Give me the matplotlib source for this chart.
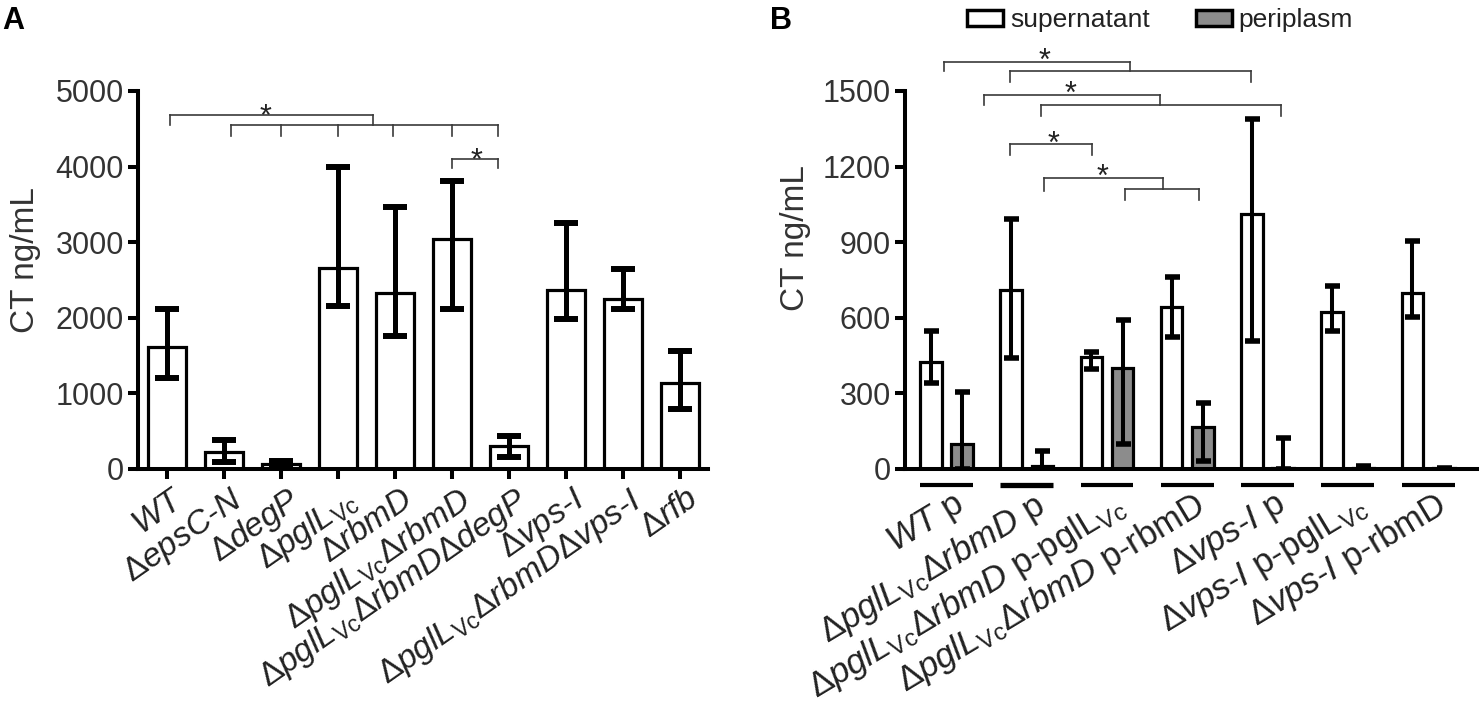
import matplotlib
matplotlib.use("Agg")
import matplotlib.pyplot as plt
import matplotlib.transforms as mtransforms
from matplotlib.patches import Patch
import numpy as np

plt.rcParams['font.family'] = ['Liberation Sans', 'DejaVu Sans']
plt.rcParams['mathtext.fontset'] = 'custom'
plt.rcParams['mathtext.rm'] = 'Liberation Sans'
plt.rcParams['mathtext.it'] = 'Liberation Sans:italic'
plt.rcParams['mathtext.bf'] = 'Liberation Sans:bold'

# ---------------- Panel A data ----------------
labels_a = [
    r'$\mathit{WT}$',
    r'$\mathit{ΔepsC‐N}$',
    r'$\mathit{ΔdegP}$',
    r'$\mathit{ΔpglL}_{\mathregular{Vc}}$',
    r'$\mathit{ΔrbmD}$',
    r'$\mathit{ΔpglL}_{\mathregular{Vc}}\mathit{ΔrbmD}$',
    r'$\mathit{ΔpglL}_{\mathregular{Vc}}\mathit{ΔrbmDΔdegP}$',
    r'$\mathit{Δvps‐I}$',
    r'$\mathit{ΔpglL}_{\mathregular{Vc}}\mathit{ΔrbmDΔvps‐I}$',
    r'$\mathit{Δrfb}$',
]
values_a = [1615, 222, 66, 2660, 2325, 3045, 300, 2370, 2245, 1135]
err_low_a = [1210, 90, 35, 2150, 1760, 2120, 155, 1980, 2113, 790]
err_high_a = [2115, 385, 100, 3990, 3470, 3810, 440, 3260, 2650, 1565]

# ---------------- Panel B data ----------------
labels_b = [
    r'$\mathit{WT}\ \mathregular{p}$',
    r'$\mathit{ΔpglL}_{\mathregular{Vc}}\mathit{ΔrbmD}\ \mathregular{p}$',
    r'$\mathit{ΔpglL}_{\mathregular{Vc}}\mathit{ΔrbmD}\ \mathregular{p‐pglL}_{\mathregular{Vc}}$',
    r'$\mathit{ΔpglL}_{\mathregular{Vc}}\mathit{ΔrbmD}\ \mathregular{p‐rbmD}$',
    r'$\mathit{Δvps‐I}\ \mathregular{p}$',
    r'$\mathit{Δvps‐I}\ \mathregular{p‐pglL}_{\mathregular{Vc}}$',
    r'$\mathit{Δvps‐I}\ \mathregular{p‐rbmD}$',
]
super_vals = [426, 710, 446, 642, 1011, 622, 700]
super_low = [343, 440, 395, 523, 506, 549, 605]
super_high = [548, 992, 466, 763, 1390, 728, 906]
peri_vals = [100, 10, 400, 166, 5, 5, 3]
peri_low = [0, 0, 99, 30, 0, 0, 0]
peri_high = [304, 70, 592, 261, 123, 10, 4]
series_names = ['supernatant', 'periplasm']

# significance brackets (x in data units, y in data units)
# each: (x0, x1, y, left_tick_bottom, right_tick_bottom)
brackets_a = [
    (0.06, 3.62, 4687, 4546, None),
    (1.12, 5.80, 4555, 4400, 4400),
    (5.00, 5.81, 4098, 3988, 3988),
]
inner_ticks_a = [(2.0, 4555, 4400), (3.0, 4555, 4400), (3.97, 4555, 4400), (5.0, 4555, 4400)]
stars_a = [(1.73, 4770), (5.42, 4185)]

brackets_b = [
    (-0.03, 2.29, 1617, 1579, None),
    (0.79, 3.79, 1578, 1536, 1536),
    (0.47, 2.66, 1483, 1443, None),
    (1.18, 4.17, 1443, 1400, 1400),
    (0.79, 1.81, 1291, 1245, 1245),
    (1.21, 2.70, 1154, 1104, None),
    (2.23, 3.15, 1110, 1067, 1067),
]
stars_b = [(1.22, 1654), (1.54, 1522), (1.33, 1324), (1.94, 1192)]

W, H = 1483, 715
fig = plt.figure(figsize=(W / 100, H / 100), dpi=100)

spine_lw = 2.9
axA = fig.add_axes([138 / W, 1 - 469 / H, (708 - 138) / W, (469 - 91) / H])
axB = fig.add_axes([905 / W, 1 - 469 / H, (1477 - 905) / W, (469 - 91) / H])

for ax in (axA, axB):
    for s in ('top', 'right'):
        ax.spines[s].set_visible(False)
    for s in ('left', 'bottom'):
        ax.spines[s].set_linewidth(spine_lw)
    ax.tick_params(axis='y', width=spine_lw, length=7.2, labelsize=22, pad=3,
                   colors='black', labelcolor='#333333')

shift = mtransforms.ScaledTranslation(6 / 100, 0, fig.dpi_scale_trans)

# ---------- Panel A ----------
xa = np.arange(len(values_a))
axA.bar(xa, values_a, width=0.67, color='white', edgecolor='black', linewidth=2.3, zorder=2)
va = np.array(values_a)
axA.errorbar(xa, va, yerr=[va - np.array(err_low_a), np.array(err_high_a) - va],
             fmt='none', ecolor='black', elinewidth=3.6, capsize=8.3, capthick=4.3, zorder=3)
axA.set_xlim(-0.51, 9.49)
axA.set_ylim(0, 5000)
axA.set_yticks(np.arange(0, 5001, 1000))
axA.set_xticks(xa)
axA.set_xticklabels(labels_a, rotation=35, ha='right', va='top', rotation_mode='anchor',
                    fontsize=24, color='#222222')
axA.tick_params(axis='x', width=spine_lw, length=7.2, pad=3)
axA.set_ylabel('CT ng/mL', fontsize=24, color='#333333')
axA.yaxis.set_label_coords(-0.17, 0.553)

# ---------- Panel B ----------
xb = np.arange(len(super_vals))
off = 0.195
bw = 0.27
sv = np.array(super_vals)
pv = np.array(peri_vals)
axB.bar(xb - off, sv, width=bw, color='white', edgecolor='black', linewidth=2.3, zorder=2)
axB.bar(xb + off, pv, width=bw, color='#8c8c8c', edgecolor='black', linewidth=2.3, zorder=2)
axB.errorbar(xb - off, sv, yerr=[sv - np.array(super_low), np.array(super_high) - sv],
             fmt='none', ecolor='black', elinewidth=2.9, capsize=5.4, capthick=4.0, zorder=3)
axB.errorbar(xb + off, pv, yerr=[pv - np.array(peri_low), np.array(peri_high) - pv],
             fmt='none', ecolor='black', elinewidth=2.9, capsize=5.4, capthick=4.0, zorder=3)
axB.set_xlim(-0.517, 6.61)
axB.set_ylim(0, 1500)
axB.set_yticks(np.arange(0, 1501, 300))
axB.set_xticks(xb)
axB.set_xticklabels(labels_b, rotation=31, ha='right', va='top', rotation_mode='anchor',
                    fontsize=25, color='#222222')
axB.tick_params(axis='x', length=0, pad=13)
axB.set_ylabel('CT ng/mL', fontsize=24, color='#333333')
axB.yaxis.set_label_coords(-0.165, 0.61)

for ax in (axA, axB):
    for lab in ax.get_xticklabels():
        lab.set_transform(lab.get_transform() + shift)

# group underlines
trans_b = mtransforms.blended_transform_factory(axB.transData, axB.transAxes)
for i in xb:
    axB.plot([i - 0.33, i + 0.33], [-0.042, -0.042], color='black',
             lw=3.8 if i == 1 else 3.0, transform=trans_b, clip_on=False, solid_capstyle='butt')

# brackets
def draw_brackets(ax, brackets, stars, inner=()):
    kw = dict(color='#3a3a3a', lw=1.2, clip_on=False, zorder=4)
    for x0, x1, y, lb, rb in brackets:
        ax.plot([x0, x1], [y, y], **kw)
        if lb is not None:
            ax.plot([x0, x0], [y, lb], **kw)
        if rb is not None:
            ax.plot([x1, x1], [y, rb], **kw)
    for x, y0, y1 in inner:
        ax.plot([x, x], [y0, y1], **kw)
    fs = 22
    tr = mtransforms.offset_copy(ax.transData, fig=fig, y=-0.58 * fs, units='points')
    for x, y in stars:
        ax.text(x, y, '*', fontsize=fs, ha='center', va='baseline', transform=tr,
                color='#222222', clip_on=False)

draw_brackets(axA, brackets_a, stars_a, inner_ticks_a)
axA.plot([3.62, 3.62], [4687, 4555], color='#3a3a3a', lw=1.2, clip_on=False)
draw_brackets(axB, brackets_b, stars_b)
axB.plot([2.29, 2.29], [1617, 1578], color='#3a3a3a', lw=1.2, clip_on=False)
axB.plot([2.66, 2.66], [1483, 1443], color='#3a3a3a', lw=1.2, clip_on=False)
axB.plot([2.70, 2.70], [1154, 1110], color='#3a3a3a', lw=1.2, clip_on=False)

# legend
handles = [Patch(facecolor='white', edgecolor='black', linewidth=2.5),
           Patch(facecolor='#8c8c8c', edgecolor='black', linewidth=2.5)]
fig.legend(handles, series_names, loc='center', bbox_to_anchor=(1160 / W, 1 - 20 / H),
           ncol=2, frameon=False, fontsize=19, handlelength=1.36, handleheight=0.55,
           handletextpad=0.25, columnspacing=1.75, labelcolor='#222222')

# panel letters
fig.text(2 / W, 1 - 6 / H, 'A', fontsize=22, fontweight='bold', va='top', ha='left')
fig.text(770 / W, 1 - 6 / H, 'B', fontsize=22, fontweight='bold', va='top', ha='left')

fig.savefig('out.png', dpi=100)
